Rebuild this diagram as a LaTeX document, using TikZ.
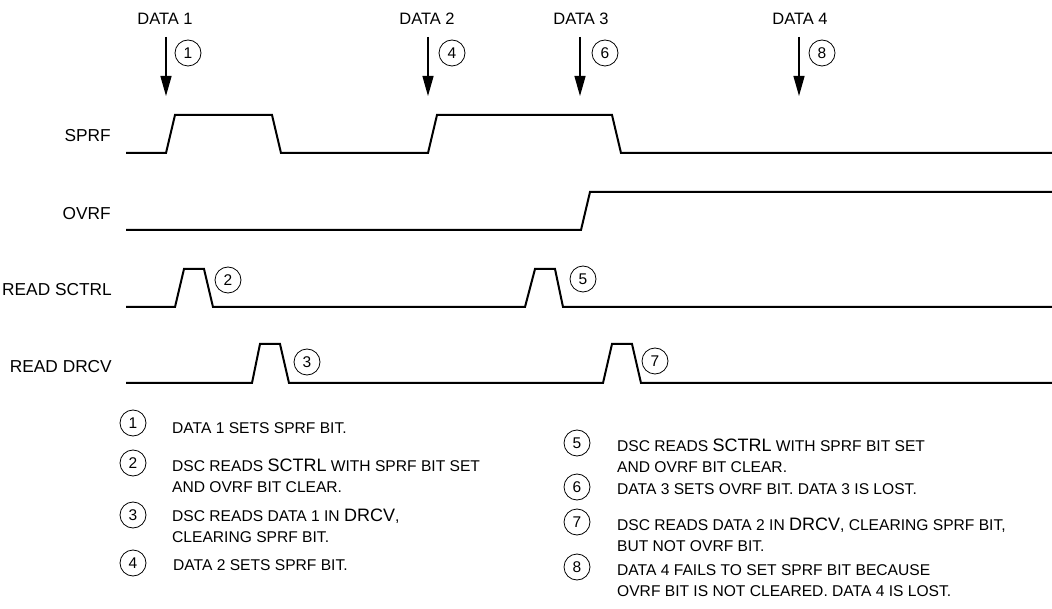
\documentclass[tikz,border=0pt]{standalone}
\usepackage{fontspec}
\setmainfont{Liberation Sans}
\usetikzlibrary{arrows.meta}
\newcommand{\bigw}[1]{{\fontsize{18}{21}\selectfont #1}}
\begin{document}
\begin{tikzpicture}[x=1pt,y=-1pt,
  sig/.style={line width=2pt, line join=miter},
  num/.style={circle, draw, line width=0.8pt, minimum size=26pt, inner sep=0pt, font=\fontsize{15.5}{15}\selectfont},
  lbl/.style={anchor=east, inner sep=0pt, font=\fontsize{17.3}{18}\selectfont},
  dat/.style={inner sep=0pt, font=\fontsize{16.5}{18}\selectfont},
  arr/.style={line width=1.3pt, -{Triangle[length=20pt,width=11pt]}},
  txt/.style={anchor=base west, align=left, inner sep=0pt, font=\fontsize{15.6}{21}\selectfont}
]
\useasboundingbox (0,0) rectangle (1052,609);

% event labels and arrows
\node[dat] (d1) at (165,19) {DATA 1};
\node[dat] (d2) at (427,19) {DATA 2};
\node[dat] (d3) at (581,19) {DATA 3};
\node[dat] (d4) at (800,19) {DATA 4};
\coordinate (a1s) at (166,37); \coordinate (a1e) at (166,96);
\coordinate (a2s) at (428,37); \coordinate (a2e) at (428,96);
\coordinate (a3s) at (580,37); \coordinate (a3e) at (580,96);
\coordinate (a4s) at (799,37); \coordinate (a4e) at (799,96);
\draw[arr] (a1s) -- (a1e);
\draw[arr] (a2s) -- (a2e);
\draw[arr] (a3s) -- (a3e);
\draw[arr] (a4s) -- (a4e);
\node[num] (c1) at (188,53) {1};
\node[num] (c4) at (452,53) {4};
\node[num] (c6) at (605,53) {6};
\node[num] (c8) at (822,53) {8};

% signal names
\node[lbl] (lsprf) at (111,136) {SPRF};
\node[lbl] (lovrf) at (111,214) {OVRF};
\node[lbl] (lsctrl) at (112,290) {READ SCTRL};
\node[lbl] (ldrcv) at (112,367) {READ DRCV};

% waveforms
\draw[sig] (126,153) -- (166,153) -- (175,115) -- (272,115) -- (281,153) -- (428,153) -- (437,115) -- (612,115) -- (621,153) -- (1052,153);
\draw[sig] (126,230) -- (581,230) -- (590,192) -- (1052,192);
\draw[sig] (126,307) -- (175,307) -- (184,269) -- (204,269) -- (213,307) -- (525,307) -- (535,269) -- (555,269) -- (563,307) -- (1052,307);
\draw[sig] (126,383) -- (252,383) -- (260,344) -- (280,344) -- (289,383) -- (603,383) -- (612,344) -- (632,344) -- (641,383) -- (1052,383);

\node[num] (c2) at (228,280) {2};
\node[num] (c5) at (583,279) {5};
\node[num] (c3) at (307,362) {3};
\node[num] (c7) at (655,361) {7};

% legend
\node[num] (k1) at (133,423) {1};
\node[num] (k2) at (133,463) {2};
\node[num] (k3) at (133,515) {3};
\node[num] (k4) at (133,563) {4};
\node[txt] (t1) at (172,433) {DATA 1 SETS SPRF BIT.};
\node[txt] (t2) at (172,492) {DSC READS \bigw{SCTRL} WITH SPRF BIT SET\\AND OVRF BIT CLEAR.};
\node[txt] (t3) at (172,542) {DSC READS DATA 1 IN \bigw{DRCV},\\CLEARING SPRF BIT.};
\node[txt] (t4) at (173,570) {DATA 2 SETS SPRF BIT.};

\node[num] (k5) at (577,443) {5};
\node[num] (k6) at (577,487) {6};
\node[num] (k7) at (577,522) {7};
\node[num] (k8) at (577,567) {8};
\node[txt] (t5) at (617,472) {DSC READS \bigw{SCTRL} WITH SPRF BIT SET\\AND OVRF BIT CLEAR.};
\node[txt] (t6) at (617,494) {DATA 3 SETS OVRF BIT. DATA 3 IS LOST.};
\node[txt] (t7) at (617,551) {DSC READS DATA 2 IN \bigw{DRCV}, CLEARING SPRF BIT,\\BUT NOT OVRF BIT.};
\node[txt] (t8) at (617,596) {DATA 4 FAILS TO SET SPRF BIT BECAUSE\\OVRF BIT IS NOT CLEARED. DATA 4 IS LOST.};
\end{tikzpicture}
\end{document}
